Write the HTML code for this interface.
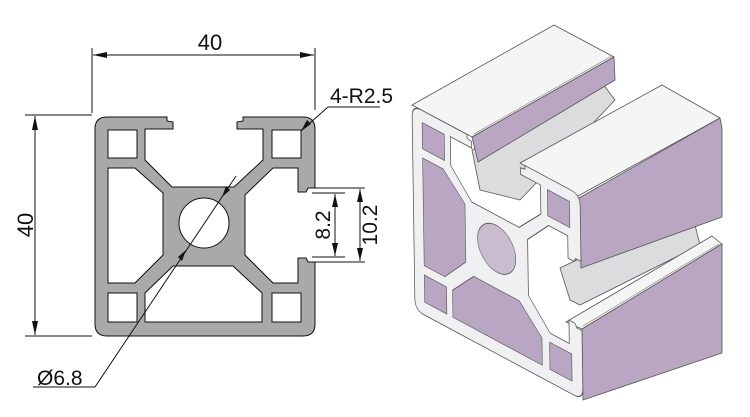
<!DOCTYPE html>
<html><head><meta charset="utf-8"><style>
html,body{margin:0;padding:0;background:#fff;}
svg{display:block;}
text{font-family:"Liberation Sans",sans-serif;fill:#111;}
</style></head><body>
<svg width="750" height="417" viewBox="0 0 750 417" xmlns="http://www.w3.org/2000/svg">
<defs>
<path id="prof" d="M107,117 L167,117 L167,121 L173,122 L173,129 L145,129 L145,160 L172,187 L234,187 L263,160 L263,129 L237,129 L237,122 L243,121 L243,117 L303,117 Q315,117 315,129 L315,188 L308,188 L306,192 L298,192 L298,168 L273,168 L245,195 L245,255 L273,283 L298,283 L298,258 L306,258 L308,262 L315,262 L315,324 Q315,336 303,336 L107,336 Q95,336 95,324 L95,129 Q95,117 107,117 Z"/>
</defs>
<!-- LEFT: cross-section -->
<g stroke="#111" stroke-width="1">
<use href="#prof" fill="#a9a9a9"/>
<polygon fill="#fff" points="108,168 135,168 163,193 163,255 135,283 108,283"/>
<polygon fill="#fff" points="145,322 145,293 173,266 233,266 262,293 262,322"/>
<rect x="108" y="130" width="29" height="28" fill="#fff"/>
<rect x="272" y="130" width="29" height="28" fill="#fff"/>
<rect x="108" y="293" width="29" height="29" fill="#fff"/>
<rect x="272" y="293" width="29" height="29" fill="#fff"/>
<circle cx="204" cy="223" r="25" fill="#fff"/>
</g>
<!-- dimensions -->
<g stroke="#111" stroke-width="1" fill="none">
<line x1="92" y1="48" x2="92" y2="113"/>
<line x1="315" y1="48" x2="315" y2="110"/>
<line x1="93" y1="55" x2="314" y2="55"/>
<line x1="25" y1="115" x2="92" y2="115"/>
<line x1="25" y1="336" x2="92" y2="336"/>
<line x1="35" y1="116" x2="35" y2="335"/>
<line x1="312" y1="188" x2="365" y2="188"/>
<line x1="312" y1="262" x2="365" y2="262"/>
<line x1="312" y1="193" x2="345" y2="193"/>
<line x1="312" y1="257" x2="345" y2="257"/>
<line x1="335" y1="194" x2="335" y2="256"/>
<line x1="360" y1="189" x2="360" y2="261"/>
<line x1="328" y1="107" x2="380" y2="107"/>
<line x1="328" y1="107" x2="301" y2="131"/>
<line x1="33" y1="387" x2="95" y2="387"/>
<line x1="95" y1="387" x2="236" y2="176"/>
</g>
<g fill="#111">
<polygon points="93,55 107,52 107,58"/>
<polygon points="314,55 300,52 300,58"/>
<polygon points="35,116 32,130 38,130"/>
<polygon points="35,335 32,321 38,321"/>
<polygon points="335,194 332,207 338,207"/>
<polygon points="335,256 332,243 338,243"/>
<polygon points="360,189 357,202 363,202"/>
<polygon points="360,261 357,248 363,248"/>
<polygon points="301,131 307,120 311,124"/>
<polygon points="222,197 226,186 230,190"/>
<polygon points="186,250 182,261 178,257"/>
</g>
<text x="210" y="50" font-size="22" text-anchor="middle">40</text>
<text x="0" y="0" font-size="22" text-anchor="middle" transform="translate(33,225) rotate(-90)">40</text>
<text x="0" y="0" font-size="21" text-anchor="middle" transform="translate(330,225) rotate(-90)">8.2</text>
<text x="0" y="0" font-size="21" text-anchor="middle" transform="translate(377,225) rotate(-90)">10.2</text>
<text x="330" y="103" font-size="21">4-R2.5</text>
<text x="37" y="385" font-size="21">Ø6.8</text>

<!-- RIGHT: 3D view -->
<g stroke="#555" stroke-width="0.8" stroke-linejoin="round">
<polygon fill="#dcdcdf" points="472,150 600,80 615,100 520,200 480,190"/>
<polygon fill="#dcdcdf" points="560,268 690,205 700,245 580,305 570,300"/>
<!-- top rail -->
<polygon fill="#f5f5f6" points="412,105 472,137 614,57 554,25"/>
<polygon fill="#b9a6c2" points="472,137 614,57 615,80 478,162"/>
<line x1="474" y1="134" x2="612" y2="56" stroke="#999"/>
<!-- right block -->
<polygon fill="#f5f5f6" points="520,163 578,196 720,118 662,85"/>
<polygon fill="#b9a6c2" points="579,198 720,118 722,128 722,217 581,268"/>
<!-- lower rail -->
<polygon fill="#f5f5f6" points="566,322 582,329 722,244 712,236"/>
<polygon fill="#b9a6c2" points="582,329 722,244 722,353 583,400"/>
<line x1="583" y1="326" x2="719" y2="244" stroke="#999"/>
</g>
<!-- front face: affine-mapped cross-section -->
<g transform="matrix(0.7636,0.409,0.0137,0.936,337.86,-43.36)" stroke="#555" stroke-width="0.8" vector-effect="non-scaling-stroke">
<use href="#prof" fill="#f0f0f2" stroke="#555" stroke-width="1"/>
<polygon fill="#b9a6c2" points="108,168 135,168 163,193 163,255 135,283 108,283"/>
<polygon fill="#b9a6c2" points="145,322 145,293 173,266 233,266 262,293 262,322"/>
<rect x="108" y="130" width="29" height="28" fill="#b9a6c2"/>
<rect x="272" y="130" width="29" height="28" fill="#b9a6c2"/>
<rect x="108" y="293" width="29" height="29" fill="#b9a6c2"/>
<rect x="272" y="293" width="29" height="29" fill="#b9a6c2"/>
<circle cx="204" cy="223" r="25" fill="#c9bccf"/>
</g>
</svg>
</body></html>
